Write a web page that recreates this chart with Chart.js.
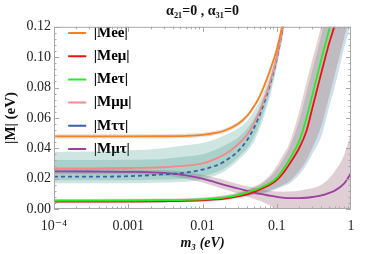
<!DOCTYPE html>
<html>
<head>
<meta charset="utf-8">
<script src="https://cdn.jsdelivr.net/npm/chart.js@4"></script>
<style>
  html, body { margin: 0; padding: 0; background: #fff; }
</style>
</head>
<body>
<canvas id="graphique" width="374" height="254"></canvas>
<script>
// valeurs (m3 en eV, |M| en eV)
const m3 = [1e-4, 3e-4, 1e-3, 3e-3, 0.006, 0.01, 0.015, 0.02, 0.03, 0.04, 0.05, 0.06,
  0.08, 0.1, 0.12, 0.15, 0.2, 0.25, 0.3, 0.4, 0.5, 0.6, 0.8, 1];

// courbes centrales
const Mee = [0.0478, 0.0478, 0.0478, 0.0479, 0.0482, 0.0488, 0.0501, 0.0517, 0.056, 0.0614, 0.068, 0.075,
  0.0905, 0.105, 0.122, 0.15, null, null, null, null, null, null, null, null];
const Memu = [0.0048, 0.0048, 0.0049, 0.0051, 0.0053, 0.0057, 0.0063, 0.0069, 0.0083, 0.0096, 0.0112, 0.013,
  0.0158, 0.019, 0.0232, 0.030, 0.040, 0.051, 0.066, 0.090, 0.108, 0.121, 0.15, null];
const Metau = [0.0055, 0.0055, 0.0056, 0.0058, 0.006, 0.0064, 0.007, 0.0076, 0.0092, 0.011, 0.0125, 0.014,
  0.0169, 0.0205, 0.0255, 0.033, 0.0445, 0.0595, 0.0745, 0.099, 0.117, 0.134, null, null];
const Mmumu = [0.0268, 0.0268, 0.027, 0.0275, 0.0285, 0.030, 0.033, 0.036, 0.0425, 0.049, 0.057, 0.0655,
  0.0825, 0.1, 0.12, 0.147, null, null, null, null, null, null, null, null];
const Mtautau = [0.0213, 0.0213, 0.0216, 0.0228, 0.024, 0.026, 0.0285, 0.0315, 0.038, 0.0455, 0.054, 0.063,
  0.081, 0.099, 0.119, 0.147, null, null, null, null, null, null, null, null];
const Mmutau = [0.0248, 0.0247, 0.0245, 0.0238, 0.0222, 0.020, 0.0175, 0.0158, 0.0135, 0.012, 0.0108, 0.0099,
  0.0088, 0.008, 0.0075, 0.0071, 0.0071, 0.0074, 0.0079, 0.009, 0.0105, 0.012, 0.0165, 0.0235];

// bandes (bord haut / bord bas)
const eeHi = [0.0492, 0.0492, 0.0492, 0.0493, 0.0496, 0.0502, 0.0515, 0.0531, 0.0574, 0.0628, 0.0694, 0.0764,
  0.092, 0.1065, 0.124, 0.152, null, null, null, null, null, null, null, null];
const eeLo = [0.0464, 0.0464, 0.0464, 0.0465, 0.0468, 0.0474, 0.0487, 0.0503, 0.0546, 0.06, 0.0666, 0.0736,
  0.089, 0.1035, 0.12, 0.148, null, null, null, null, null, null, null, null];
const mmHi = [0.0376, 0.0378, 0.0385, 0.040, 0.042, 0.0435, 0.046, 0.0485, 0.053, 0.058, 0.065, 0.072,
  0.088, 0.104, 0.123, 0.15, null, null, null, null, null, null, null, null];
const mmLo = [0.019, 0.019, 0.019, 0.0195, 0.020, 0.0215, 0.024, 0.027, 0.034, 0.040, 0.048, 0.057,
  0.076, 0.095, 0.115, 0.142, null, null, null, null, null, null, null, null];
const ttHi = [0.0323, 0.0323, 0.0325, 0.033, 0.0345, 0.036, 0.039, 0.042, 0.047, 0.053, 0.060, 0.068,
  0.085, 0.102, 0.121, 0.149, null, null, null, null, null, null, null, null];
const ttLo = [0.0169, 0.0169, 0.017, 0.0175, 0.018, 0.0195, 0.022, 0.025, 0.032, 0.038, 0.045, 0.054,
  0.073, 0.093, 0.113, 0.14, null, null, null, null, null, null, null, null];
const etHi = [0.0066, 0.0066, 0.0067, 0.0069, 0.0071, 0.0076, 0.0083, 0.009, 0.0108, 0.0125, 0.015, 0.0168,
  0.022, 0.0285, 0.035, 0.044, 0.064, 0.083, 0.098, 0.121, 0.14, 0.158, 0.19, 0.22];
const etLo = [0.0044, 0.0044, 0.0045, 0.0047, 0.0049, 0.0052, 0.0057, 0.0062, 0.0076, 0.0088, 0.0098, 0.0103,
  0.012, 0.014, 0.0157, 0.0185, 0.025, 0.032, 0.040, 0.055, 0.073, 0.088, 0.112, 0.13];
const emHi = [0.0062, 0.0062, 0.0063, 0.0065, 0.0067, 0.0072, 0.0079, 0.0086, 0.0103, 0.0118, 0.0143, 0.016,
  0.0205, 0.026, 0.032, 0.041, 0.058, 0.076, 0.091, 0.115, 0.134, 0.152, 0.185, 0.21];
const emLo = [0.004, 0.004, 0.0041, 0.0043, 0.0045, 0.0048, 0.0053, 0.0058, 0.0072, 0.0083, 0.0094, 0.0099,
  0.0114, 0.0131, 0.0148, 0.017, 0.0225, 0.029, 0.036, 0.048, 0.066, 0.080, 0.105, 0.122];
const mtHi = [0.0265, 0.0264, 0.0262, 0.0255, 0.0245, 0.0225, 0.0205, 0.019, 0.0165, 0.015, 0.014, 0.013,
  0.012, 0.0115, 0.0114, 0.0115, 0.012, 0.013, 0.0136, 0.016, 0.020, 0.0245, 0.035, 0.05];
const mtLo = [0.023, 0.0229, 0.0228, 0.022, 0.020, 0.0175, 0.0148, 0.0128, 0.0102, 0.0082, 0.0066, 0.0052,
  0.0025, 0, 0, 0, 0, 0, 0, 0, 0, 0, 0, 0];

// axes
const xTicks = [1e-4, 1e-3, 0.01, 0.1, 1];
const xLabels = ["10\u207B\u2074", "0.001", "0.01", "0.1", "1"];
const labelsLegende = ["|Mee|", "|Me\u03BC|", "|Me\u03C4|", "|M\u03BC\u03BC|", "|M\u03C4\u03C4|", "|M\u03BC\u03C4|"];
const couleurs = ["#f4821f", "#ee1111", "#22ee22", "#f28a8a", "#3a5fa8", "#9b3fa0"];

const serif = "'Liberation Serif', 'DejaVu Serif', serif";

function pts(vals) {
  return m3.map((x, i) => ({ x: x, y: vals[i] }));
}

function ligne(idx, vals, ordre, pointilles) {
  return {
    label: labelsLegende[idx],
    data: pts(vals),
    borderColor: couleurs[idx],
    backgroundColor: couleurs[idx],
    borderWidth: 1.8,
    borderDash: pointilles ? [4, 3] : [],
    pointRadius: 0,
    fill: false,
    cubicInterpolationMode: "monotone",
    order: ordre,
  };
}

// une bande = bord haut rempli jusqu'au dataset suivant (bord bas)
function bande(hi, lo, couleur) {
  return [
    { label: "", data: pts(hi), borderWidth: 0, pointRadius: 0, backgroundColor: couleur,
      fill: "+1", cubicInterpolationMode: "monotone", order: 10 },
    { label: "", data: pts(lo), borderWidth: 0, pointRadius: 0, backgroundColor: "transparent",
      fill: false, cubicInterpolationMode: "monotone", order: 10 },
  ];
}

const datasets = [
  ligne(0, Mee, 2),
  ligne(1, Memu, 1),
  ligne(2, Metau, 0),
  ligne(3, Mmumu, 2),
  ligne(4, Mtautau, 2, true),
  ligne(5, Mmutau, 2),
  ...bande(eeHi, eeLo, "rgba(180,110,90,0.25)"),
  ...bande(mmHi, mmLo, "rgba(60,150,140,0.25)"),
  ...bande(ttHi, ttLo, "rgba(60,150,140,0.25)"),
  ...bande(etHi, etLo, "rgba(160,90,80,0.27)"),
  ...bande(emHi, emLo, "rgba(90,150,190,0.3)"),
  ...bande(mtHi, mtLo, "rgba(110,30,55,0.22)"),
];

// cadre + petites graduations vers l'interieur (style Mathematica)
const cadre = {
  id: "cadre",
  afterLayout(chart) {
    // la legende "chartArea" a top = 0 apres fit : on la replace dans le graphe
    chart.legend.top = chart.chartArea.top - 9.5;
    chart.legend.left = chart.chartArea.left + 6;
  },
  afterDraw(chart) {
    const { ctx, chartArea: a, scales } = chart;
    const x = scales.x, y = scales.y;
    ctx.save();
    ctx.strokeStyle = "#a8a8a8";
    ctx.lineWidth = 1;
    ctx.strokeRect(a.left + 0.5, a.top + 0.5, a.width - 1, a.height - 1);
    ctx.beginPath();
    for (let d = -4; d < 0; d++) {
      for (let k = 1; k < 10; k++) {
        const px = Math.round(x.getPixelForValue(k * Math.pow(10, d))) + 0.5;
        const len = k === 1 ? 5 : 2.5;
        ctx.moveTo(px, a.bottom); ctx.lineTo(px, a.bottom - len);
        ctx.moveTo(px, a.top); ctx.lineTo(px, a.top + len);
      }
    }
    for (let i = 0; i <= 30; i++) {
      const py = Math.round(y.getPixelForValue(i * 0.004)) + 0.5;
      const len = i % 5 === 0 ? 5 : 2.5;
      ctx.moveTo(a.left, py); ctx.lineTo(a.left + len, py);
      ctx.moveTo(a.right, py); ctx.lineTo(a.right - len, py);
    }
    ctx.stroke();
    ctx.restore();
  },
};

new Chart(document.querySelector("#graphique"), {
  type: "line",
  data: { datasets: datasets },
  options: {
    responsive: false,
    animation: false,
    layout: { padding: { left: 0, right: 23, top: 0, bottom: 0 } },
    plugins: {
      title: {
        display: true,
        text: "\u03B1\u2082\u2081=0 , \u03B1\u2083\u2081=0",
        fullSize: false,
        color: "#111",
        font: { family: serif, size: 14, weight: "bold" },
        padding: { top: 3, bottom: 7 },
      },
      legend: {
        position: "chartArea",
        align: "start",
        labels: {
          boxWidth: 18,
          boxHeight: 2,
          padding: 8.2,
          color: "#111",
          font: { family: serif, size: 15, weight: "bold" },
          generateLabels: () => labelsLegende.map((t, i) => ({
            text: t, fillStyle: couleurs[i], strokeStyle: couleurs[i], lineWidth: 0,
            hidden: false, datasetIndex: i,
          })),
        },
      },
      tooltip: { enabled: false },
    },
    scales: {
      x: {
        type: "logarithmic",
        min: 1e-4,
        max: 1,
        afterBuildTicks: (s) => { s.ticks = xTicks.map((v) => ({ value: v })); },
        afterFit: (s) => { s.height = 45; },
        grid: { display: false, drawTicks: false, tickLength: 0 },
        border: { display: false },
        ticks: {
          autoSkip: false,
          maxRotation: 0,
          padding: 9,
          color: "#222",
          font: { family: serif, size: 14 },
          callback: (v, i) => xLabels[i],
        },
        title: {
          display: true,
          text: "m\u2083 (eV)",
          color: "#111",
          font: { family: serif, size: 14, weight: "bold", style: "italic" },
          padding: { top: 0, bottom: 2 },
        },
      },
      y: {
        min: 0,
        max: 0.12,
        afterFit: (s) => { s.width = 54; },
        grid: { display: false, drawTicks: false, tickLength: 0 },
        border: { display: false },
        ticks: {
          stepSize: 0.02,
          padding: 3,
          color: "#222",
          font: { family: serif, size: 14 },
          callback: (v) => v.toFixed(2),
        },
        title: {
          display: true,
          text: "|M| (eV)",
          color: "#111",
          font: { family: serif, size: 15, weight: "bold" },
          padding: { top: 2, bottom: 0 },
        },
      },
    },
  },
  plugins: [cadre],
});
</script>
</body>
</html>
